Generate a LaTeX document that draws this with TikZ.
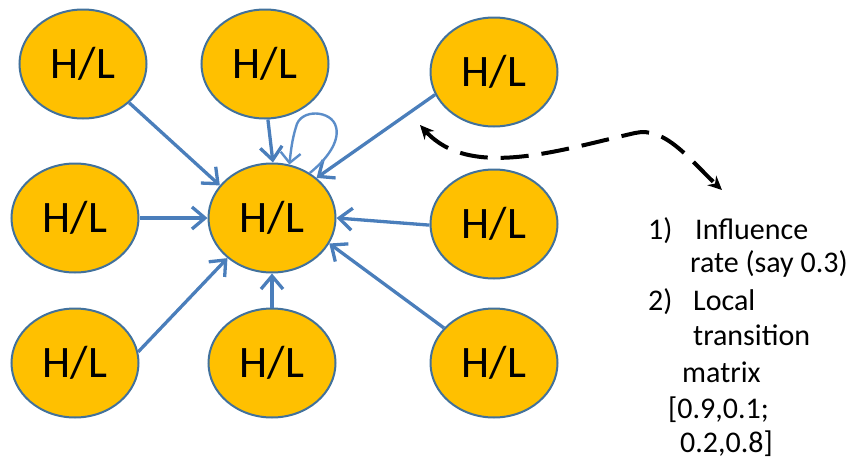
\documentclass[tikz,border=0pt]{standalone}
\usepackage{fontspec}
\setmainfont{Carlito}
\usetikzlibrary{shapes.geometric,arrows.meta}
\definecolor{stateFill}{HTML}{FFC000}
\definecolor{stateLine}{HTML}{41719C}
\definecolor{linkBlue}{HTML}{4A7EBB}
\definecolor{loopBlue}{HTML}{5B8DC9}

\begin{document}
\begin{tikzpicture}[x=1pt,y=-1pt,
  state/.style={ellipse, draw=stateLine, line width=2pt, fill=stateFill,
    minimum width=127pt, minimum height=109pt, inner sep=0pt,
    font=\fontsize{45}{50}\selectfont},
  link/.style={draw=linkBlue, line width=3.3pt,
    -{Straight Barb[length=13pt,width=22pt,line width=3.3pt]}},
  selfloop/.style={draw=loopBlue, line width=2.4pt,
    -{Straight Barb[length=10pt,width=20pt,line width=2.4pt]}},
  wave/.style={draw=black, line width=4pt, dash pattern=on 28pt off 13pt,
    {Stealth[length=14pt,width=13pt]}-{Stealth[length=14pt,width=13pt]}},
  note/.style={anchor=base west, font=\fontsize{30}{34}\selectfont, inner sep=0pt}]

\useasboundingbox (0,0) rectangle (855,458);

% states
\node[state] (tl) at (83,64)   {H/L};
\node[state] (tm) at (265,64)  {H/L};
\node[state] (tr) at (494,72)  {H/L};
\node[state] (ml) at (75,218)  {H/L};
\node[state] (c)  at (272,218) {H/L};
\node[state] (mr) at (494,224) {H/L};
\node[state] (bl) at (75,363)  {H/L};
\node[state] (bm) at (272,363) {H/L};
\node[state] (br) at (494,363) {H/L};

% influence links into the central state
\draw[link] (tl.-40)  -- (c.148);
\draw[link] (tm.-87)  -- (c.89);
\draw[link] (tr.-159) -- (c.42);
\draw[link] (ml.east) -- (c.west);
\draw[link] (mr.181)  -- (c.east);
\draw[link] (bl.10)   -- (c.-138);
\draw[link] (bm.north) -- (c.south);
\draw[link] (br.145)  -- (c.-24);

% self transition
\draw[selfloop] (c.50) .. controls (326,160) and (340,142) .. (336,127)
  .. controls (332,110) and (300,108) .. (296,127)
  .. controls (292,140) and (291,150) .. (c.72);

% parameters note
\node[note] (n1a) at (648,239) {1)};
\node[note] (n1b) at (695,239) {Influence};
\node[note] (n1c) at (690,272) {rate (say 0.3)};
\node[note] (n2a) at (648,310) {2)};
\node[note] (n2b) at (693,310) {Local};
\node[note] (n2c) at (693,345) {transition};
\node[note] (n2d) at (682,382) {matrix};
\node[note] (n2e) at (668,418) {[0.9,0.1;};
\node[note] (n2f) at (680,452) {0.2,0.8]};

\coordinate (wa) at (420,125);
\coordinate (wb) at (722,190);
\draw[wave] (wa) .. controls (470,180) and (560,150) .. (635,133)
  .. controls (665,126) and (690,160) .. (wb);

\end{tikzpicture}
\end{document}
